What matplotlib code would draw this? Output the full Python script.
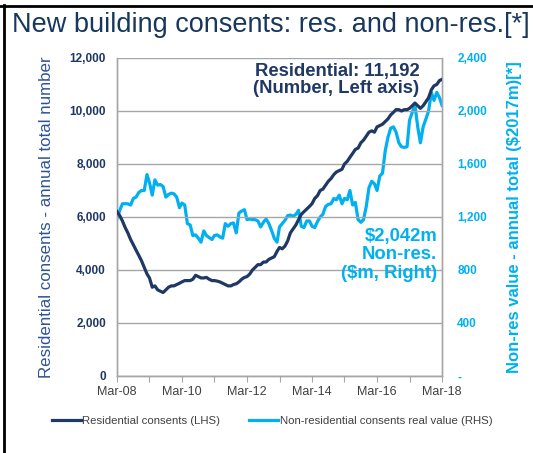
import matplotlib.pyplot as plt
import matplotlib.dates as mdates
import matplotlib.ticker as ticker
from matplotlib.lines import Line2D
import pandas as pd

plt.rcParams['font.family'] = ['Liberation Sans', 'DejaVu Sans']

# monthly data, Mar-08 .. Mar-18
months = pd.date_range('2008-03-01', '2018-03-01', freq='MS')

residential = [
    6200, 6050, 5850, 5600, 5400, 5150, 4950, 4750, 4550, 4350, 4100, 3850,
    3700, 3350, 3400, 3250, 3200, 3150, 3250, 3350, 3400, 3400, 3450, 3500,
    3550, 3600, 3600, 3600, 3650, 3800, 3750, 3700, 3700, 3720, 3650, 3600,
    3600, 3580, 3550, 3500, 3450, 3400, 3400, 3450, 3480, 3550, 3650, 3720,
    3750, 3850, 4000, 4100, 4200, 4200, 4300, 4300, 4400, 4450, 4500, 4700,
    4850, 4800, 4900, 5100, 5400, 5550, 5700, 5900, 6100, 6200, 6300, 6400,
    6500, 6700, 6800, 7000, 7050, 7200, 7350, 7450, 7600, 7700, 7750, 7800,
    8000, 8100, 8250, 8400, 8550, 8600, 8800, 8900, 9050, 9200, 9250, 9200,
    9400, 9450, 9500, 9600, 9700, 9850, 9950, 10050, 10050, 10000, 10050, 10050,
    10100, 10200, 10300, 10200, 10100, 10200, 10350, 10500, 10800, 10950, 11000, 11150,
    11192,
]

non_residential = [
    1190, 1250, 1300, 1300, 1300, 1290, 1340, 1350, 1385, 1400, 1400, 1520,
    1460, 1365, 1480, 1440, 1445, 1430, 1350, 1370, 1380, 1375, 1350, 1270,
    1305, 1290, 1150, 1140, 1060, 1065, 1040, 1010, 1095, 1060, 1045, 1030,
    1060, 1065, 1050, 1040, 1150, 1130, 1150, 1155, 1080, 1230, 1245, 1255,
    1180, 1185, 1180, 1180, 1170, 1125, 1160, 1185, 1150, 1100, 1040, 1010,
    1125, 1150, 1175, 1210, 1215, 1205, 1220, 1250, 1130, 1120, 1170, 1170,
    1130, 1120, 1165, 1200, 1220, 1280, 1295, 1300, 1340, 1330, 1365, 1300,
    1340, 1330, 1400, 1290, 1310, 1180, 1160, 1180, 1280, 1420, 1470, 1450,
    1400, 1510, 1530, 1700, 1800, 1870, 1880, 1840, 1760, 1730, 1725, 1730,
    1930, 1990, 2045, 1880, 1760, 1880, 1940, 2000, 2140, 2080, 2140, 2100,
    2042,
]

left_ticks = [0, 2000, 4000, 6000, 8000, 10000, 12000]
right_ticks = [0, 400, 800, 1200, 1600, 2000, 2400]

navy = '#1F3864'
cyan = '#00B0F0'
grey = '#A6A6A6'

fig = plt.figure(figsize=(5.33, 4.53), dpi=100)
ax = fig.add_axes([0.2195, 0.170, 0.6098, 0.702])
ax2 = ax.twinx()

ax.plot(months, residential, color=navy, lw=2.3, zorder=3)
ax2.plot(months, non_residential, color=cyan, lw=2.3, zorder=2)
ax.set_zorder(ax2.get_zorder() + 1)
ax.patch.set_visible(False)

ax.set_xlim(months[0], months[-1])
ax.set_ylim(0, 12000)
ax2.set_ylim(0, 2400)
ax.set_yticks(left_ticks)
ax2.set_yticks(right_ticks)
ax.yaxis.set_major_formatter(ticker.FuncFormatter(lambda v, p: f'{int(v):,}'))
ax2.yaxis.set_major_formatter(ticker.FuncFormatter(lambda v, p: '-' if v == 0 else f'{int(v):,}'))

ax.xaxis.set_major_locator(mdates.MonthLocator(bymonth=3, interval=1))
ax.xaxis.set_major_formatter(ticker.FuncFormatter(
    lambda v, p: mdates.num2date(v).strftime('%b-%y') if mdates.num2date(v).year % 2 == 0 else ''))

ax.grid(True, axis='y', color=grey, lw=1.0)
for a in (ax, ax2):
    a.spines['top'].set_visible(False)
    for s in ('left', 'right', 'bottom'):
        a.spines[s].set_color(grey)
        a.spines[s].set_linewidth(1.0)

ax.tick_params(axis='y', length=0, labelsize=8.5, labelcolor=navy, pad=8)
ax2.tick_params(axis='y', length=0, labelsize=8.5, labelcolor=cyan, pad=11)
ax.tick_params(axis='x', length=4, color=grey, labelsize=9, labelcolor='#404040', pad=3)
for lbl in ax.get_yticklabels():
    lbl.set_fontweight('bold')
for lbl in ax2.get_yticklabels():
    lbl.set_fontweight('bold')

ax.set_ylabel('Residential consents - annual total number', fontsize=12.2, color='#2F5496')
ax.yaxis.set_label_coords(-0.194, 0.5)
ax2.set_ylabel('Non-res value - annual total ($2017m)[*]', fontsize=12, color=cyan,
               fontweight='bold')
ax2.yaxis.set_label_coords(1.2, 0.5)

ax.text(0.93, 0.985, 'Residential: 11,192\n(Number, Left axis)', transform=ax.transAxes,
        ha='right', va='top', fontsize=13.3, fontweight='bold', color=navy, linespacing=1.0)
ax.text(0.985, 0.465, '$2,042m\nNon-res.\n($m, Right)', transform=ax.transAxes,
        ha='right', va='top', fontsize=13.3, fontweight='bold', color=cyan,
        multialignment='right', linespacing=1.1)

fig.text(0.022, 0.945, 'New building consents: res. and non-res.[*]', fontsize=19.5,
         color='#17375E', ha='left', va='center')

handles = [Line2D([], [], color=navy, lw=2.3), Line2D([], [], color=cyan, lw=2.3)]
fig.legend(handles, ['Residential consents (LHS)', 'Non-residential consents real value (RHS)'],
           loc='center', bbox_to_anchor=(0.51, 0.07), ncol=2, frameon=False, fontsize=8.2,
           handlelength=2.6, handletextpad=0.1, columnspacing=2.5, labelcolor='#404040')

# outer frame lines
fig.add_artist(Line2D([0.008, 0.008], [0, 0.99], color='black', lw=2, transform=fig.transFigure))
fig.add_artist(Line2D([0, 1], [0.986, 0.986], color='black', lw=2, transform=fig.transFigure))

fig.savefig('out.png', dpi=100)
